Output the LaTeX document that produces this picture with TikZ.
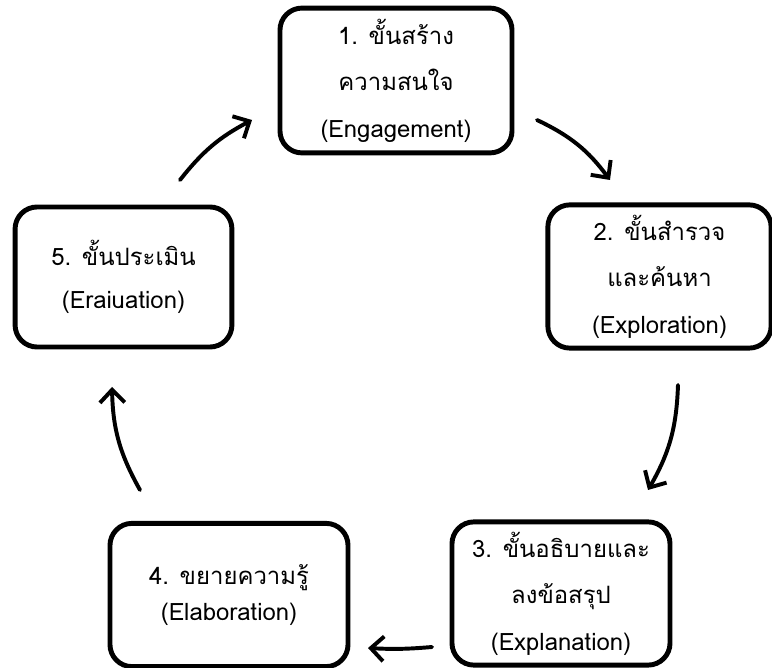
\documentclass[tikz,border=0pt]{standalone}
\usepackage{fontspec}
\setmainfont[Script=Thai]{Loma}
\usetikzlibrary{arrows.meta}

% styles for the boxes and the cycle arrows
\tikzset{
  stepbox/.style={draw, line width=3.5pt, rounded corners=0.55cm, align=center,
    inner sep=0pt, font=\fontsize{17}{33}\selectfont},
  flow/.style={line width=2.8pt, line cap=round,
    -{Straight Barb[length=0.32cm, width=0.62cm, line width=2.8pt]}}
}

\begin{document}
\begin{tikzpicture}[x=0.025cm, y=-0.025cm]
    \useasboundingbox (0,0) rectangle (772,668);

    % five steps of the learning cycle
    \node[stepbox, minimum width=5.8cm, minimum height=3.62cm] (s1) at (396,80.5)
        {1. ขั้นสร้าง\\ความสนใจ\\(Engagement)};
    \node[stepbox, minimum width=5.58cm, minimum height=3.58cm] (s2) at (659.5,276.5)
        {2. ขั้นสำรวจ\\และค้นหา\\(Exploration)};
    \node[stepbox, minimum width=5.45cm, minimum height=3.58cm] (s3) at (561,593.5)
        {3. ขั้นอธิบายและ\\ลงข้อสรุป\\(Explanation)};
    \node[stepbox, minimum width=5.95cm, minimum height=3.58cm,
        font=\fontsize{17}{26}\selectfont] (s4) at (229,595)
        {4. ขยายความรู้\\(Elaboration)};
    \node[stepbox, minimum width=5.42cm, minimum height=3.5cm,
        font=\fontsize{17}{31}\selectfont] (s5) at (123.5,277)
        {5. ขั้นประเมิน\\(Eraiuation)};

    % free ends of the arrows
    \coordinate (a1s) at (180,180); \coordinate (a1e) at (252,120);
    \coordinate (a2s) at (537,120); \coordinate (a2e) at (610,180);
    \coordinate (a3s) at (678,385); \coordinate (a3e) at (648,490);
    \coordinate (a4s) at (432,647); \coordinate (a4e) at (368,648);
    \coordinate (a5s) at (140,490); \coordinate (a5e) at (112,387);

    % arrows round the cycle
    \draw[flow] (a1s) to[bend left=12] (a1e);
    \draw[flow] (a2s) to[bend left=14] (a2e);
    \draw[flow] (a3s) to[bend left=14] (a3e);
    \draw[flow] (a4s) to[bend left=4] (a4e);
    \draw[flow] (a5s) to[bend left=14] (a5e);
\end{tikzpicture}
\end{document}
